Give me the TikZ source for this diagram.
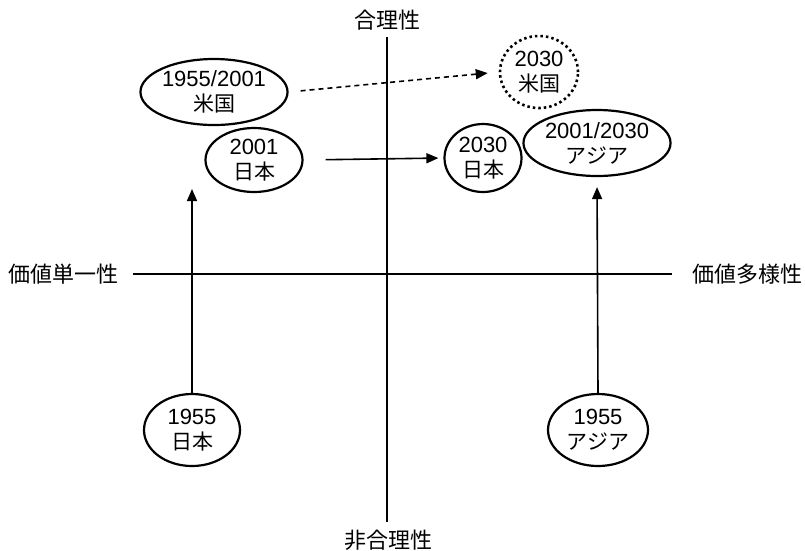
\documentclass[tikz,border=0pt]{standalone}
\usepackage{fontspec}
\setmainfont{Liberation Sans}
\newfontfamily\jp{Noto Sans CJK JP}
\usetikzlibrary{arrows.meta,shapes.geometric}
\begin{document}
\begin{tikzpicture}[x=1pt,y=-1pt,
  bub/.style={ellipse,draw,line width=2.2pt,inner sep=0pt,align=center,
    font=\fontsize{22}{25}\selectfont},
  dashbub/.style={bub,dash pattern=on 2.5pt off 3pt,line width=2.6pt},
  axisline/.style={line width=1.5pt},
  lab/.style={font=\jp\fontsize{22}{26}\selectfont,inner sep=0pt},
  conn/.style={line width=1.6pt,-{Triangle[length=12pt,width=10pt]}},
  dconn/.style={conn,dash pattern=on 5pt off 4pt}]
\useasboundingbox (0,0) rectangle (805,550);
% axes
\node[lab] (top) at (387,20) {合理性};
\node[lab] (bot) at (388,540) {非合理性};
\node[lab] (left) at (64,274) {価値単一性};
\node[lab] (right) at (747,274) {価値多様性};
\coordinate (vt) at (387,37);
\coordinate (vb) at (387,522);
\coordinate (hl) at (133,274);
\coordinate (hr) at (672,274);
\draw[axisline] (vt) -- (vb);
\draw[axisline] (hl) -- (hr);
% bubbles
\newcommand\jt[1]{{\jp\fontsize{21}{25}\selectfont #1}}
\node[bub,minimum width=145pt,minimum height=66pt] (usa1) at (214,92) {1955/2001\\\jt{米国}};
\node[dashbub,minimum width=78pt,minimum height=72pt] (usa2) at (539,72) {2030\\\jt{米国}};
\node[bub,minimum width=97pt,minimum height=64pt] (jp2) at (254,160) {2001\\\jt{日本}};
\node[bub,minimum width=77pt,minimum height=68pt] (jp3) at (483,158) {2030\\\jt{日本}};
\node[bub,minimum width=143pt,minimum height=66pt] (as2) at (597,143) {2001/2030\\\jt{アジア}};
\node[bub,minimum width=96pt,minimum height=72pt] (jp1) at (192,430) {1955\\\jt{日本}};
\node[bub,minimum width=100pt,minimum height=72pt] (as1) at (598,430) {1955\\\jt{アジア}};
% connectors
\coordinate (jtip) at (192,189);
\draw[dconn,shorten <=12pt,shorten >=11pt] (usa1.east) -- (usa2.west);
\draw[conn,shorten <=22pt,shorten >=5pt] (jp2.east) -- (jp3.west);
\draw[conn] (jp1.north) -- (jtip);
\draw[conn,shorten >=10pt] (as1.north) -- (as2.south);
\end{tikzpicture}
\end{document}
